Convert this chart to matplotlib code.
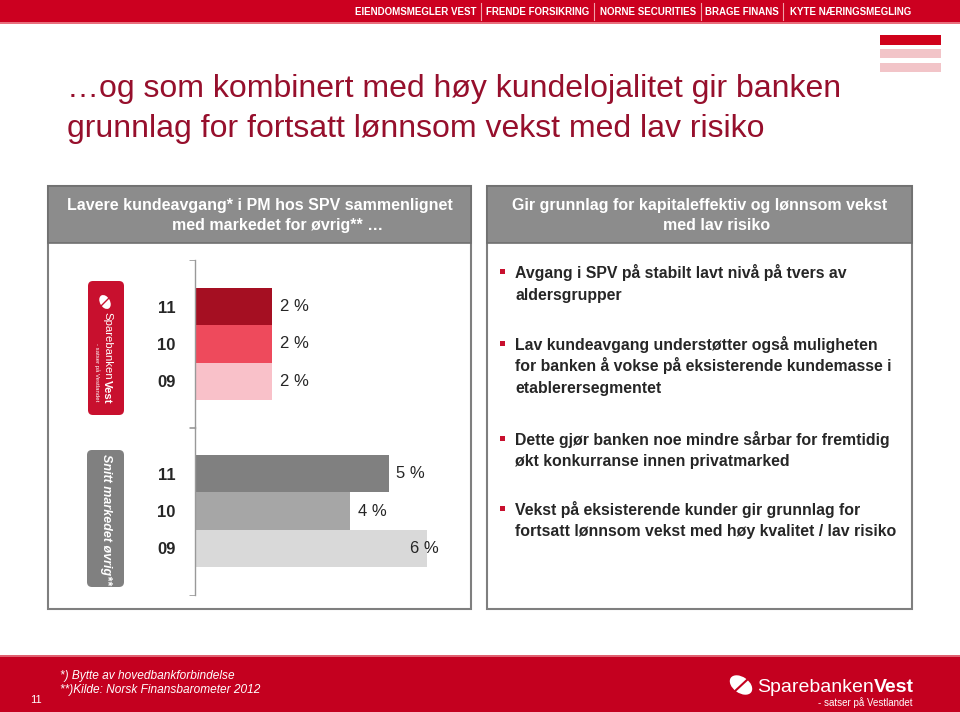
import matplotlib
matplotlib.use('Agg')
import matplotlib.pyplot as plt
from matplotlib.patches import Rectangle, FancyBboxPatch, Ellipse

plt.rcParams['font.family'] = ['Liberation Sans', 'DejaVu Sans']

# ---------------- data ----------------
years = ['11', '10', '09']
spv_values = [2, 2, 2]
market_values = [5, 4, 6]
spv_colors = ['#a50f22', '#ee4a5c', '#f9c1c9']
market_colors = ['#808080', '#a6a6a6', '#d9d9d9']

title_lines = ['\u2026og som kombinert med h\u00f8y kundelojalitet gir banken',
               'grunnlag for fortsatt l\u00f8nnsom vekst med lav risiko']
left_header = ['Lavere kundeavgang* i PM hos SPV sammenlignet',
               'med markedet for \u00f8vrig** \u2026']
right_header = ['Gir grunnlag for kapitaleffektiv og l\u00f8nnsom vekst',
                'med lav risiko']
bullets = [
    ['Avgang i SPV p\u00e5 stabilt lavt niv\u00e5 p\u00e5 tvers av', 'aldersgrupper'],
    ['Lav kundeavgang underst\u00f8tter ogs\u00e5 muligheten',
     'for banken \u00e5 vokse p\u00e5 eksisterende kundemasse i',
     'etablerersegmentet'],
    ['Dette gj\u00f8r banken noe mindre s\u00e5rbar for fremtidig',
     '\u00f8kt konkurranse innen privatmarked'],
    ['Vekst p\u00e5 eksisterende kunder gir grunnlag for',
     'fortsatt l\u00f8nnsom vekst med h\u00f8y kvalitet / lav risiko'],
]
top_menu = ['EIENDOMSMEGLER VEST', 'FRENDE FORSIKRING', 'NORNE SECURITIES',
            'BRAGE FINANS', 'KYTE N\u00c6RINGSMEGLING']
footnotes = ['*) Bytte av hovedbankforbindelse',
             '**)Kilde: Norsk Finansbarometer 2012']

RED = '#cc0020'
W, H = 960, 712
fig = plt.figure(figsize=(9.6, 7.12), dpi=100)
bg = fig.add_axes([0, 0, 1, 1])
bg.set_xlim(0, W)
bg.set_ylim(H, 0)
bg.axis('off')

# top bar
bg.add_patch(Rectangle((0, 0), W, 22, color=RED, lw=0))
bg.add_patch(Rectangle((0, 22), W, 2, color='#e8707e', lw=0))
menu_centers = [416, 538, 648, 742, 851]
for t, cx in zip(top_menu, menu_centers):
    bg.text(cx, 12, t, color='white', fontsize=7, fontweight='bold',
            ha='center', va='center')
for sx in [481, 594, 701, 783]:
    bg.plot([sx, sx], [3, 20], color='#f0a0a8', lw=0.8)

# top-right decoration
bg.add_patch(Rectangle((880, 35), 61, 10, color='#d0021b', lw=0))
bg.add_patch(Rectangle((880, 49), 61, 9, color='#f2c4c8', lw=0))
bg.add_patch(Rectangle((880, 63), 61, 9, color='#f2c4c8', lw=0))

# title
for i, line in enumerate(title_lines):
    bg.text(67, 97 + 40 * i, line, color='#960f2c', fontsize=23,
            ha='left', va='baseline')

# panels
for x0, x1, hdr, cxs in [(48, 471, left_header, [260, 278]),
                         (487, 912, right_header, [700, 717])]:
    bg.add_patch(Rectangle((x0, 186), x1 - x0, 423, fill=False,
                           ec='#7f7f7f', lw=1.5))
    bg.add_patch(Rectangle((x0, 186), x1 - x0, 57, fc='#8c8c8c',
                           ec='#6f6f6f', lw=1.2))
    for j, (t, cx) in enumerate(zip(hdr, cxs)):
        bg.text(cx, 210 + 20 * j, t, color='white', fontsize=11.5,
                fontweight='bold', ha='center', va='baseline')

# bullets
bullet_baselines = [[278, 300], [350, 371.5, 393], [445, 466], [515, 536]]
for lines, ys in zip(bullets, bullet_baselines):
    bg.add_patch(Rectangle((500, ys[0] - 9), 5, 5, color='#c8102e', lw=0))
    for t, y in zip(lines, ys):
        bg.text(515, y, t, color='#262626', fontsize=11.4, fontweight='bold',
                ha='left', va='baseline')

# logo boxes
bg.add_patch(FancyBboxPatch((88, 281), 36, 134,
                            boxstyle='round,pad=0,rounding_size=5',
                            fc='#c8102e', ec='none'))
bg.add_patch(Ellipse((105, 302), 15, 10, angle=60, fc='white', ec='none'))
bg.plot([101, 109], [306, 298], color='#c8102e', lw=1)
t1 = bg.text(107, 312, 'Sparebanken', color='white', fontsize=8.2,
             rotation=-90, ha='center', va='top')
bg.annotate('Vest', xy=(0.5, 0), xycoords=t1, color='white', fontsize=8.2,
            fontweight='bold', rotation=-90, ha='center', va='top')
bg.text(97, 372, '- satser p\u00e5 Vestlandet', color='white', fontsize=4.3,
        rotation=-90, ha='center', va='center')

bg.add_patch(FancyBboxPatch((87, 450), 37, 137,
                            boxstyle='round,pad=0,rounding_size=5',
                            fc='#808080', ec='none'))
bg.text(106, 519, 'Snitt markedet \u00f8vrig**', color='white', fontsize=9,
        fontweight='bold', style='italic', rotation=-90,
        ha='center', va='center')

# bottom banner
bg.add_patch(Rectangle((0, 655), W, 57, color='#c4001f', lw=0))
bg.add_patch(Rectangle((0, 655), W, 2, color='#e06070', lw=0))
for i, t in enumerate(footnotes):
    bg.text(60, 679 + 14 * i, t, color='white', fontsize=8.6, style='italic',
            ha='left', va='baseline')
bg.text(30, 703, '11', color='white', fontsize=8, ha='left', va='baseline')
bg.add_patch(Ellipse((741, 685), 25, 16, angle=35, fc='white', ec='none'))
bg.plot([734, 748], [692, 679], color='#c4001f', lw=1.5)
t2 = bg.text(757, 692, 'Sparebanken', color='white', fontsize=14,
             ha='left', va='baseline')
bg.annotate('Vest', xy=(1, 0), xycoords=t2, color='white', fontsize=14,
            fontweight='bold', ha='left', va='bottom')
bg.text(912, 706, '- satser p\u00e5 Vestlandet', color='white', fontsize=7,
        ha='right', va='baseline')


# ---------------- bar charts ----------------
def bar_panel(top_px, values, colors):
    ax = fig.add_axes([195 / W, 1 - (top_px + 168) / H, 271 / W, 168 / H])
    ax.patch.set_alpha(0)
    pos = list(range(len(years)))
    ax.barh(pos, values, height=1.0, color=colors, left=0)
    ax.set_xlim(0, 7)
    ax.set_ylim(len(years) - 0.5 + 0.75, -0.5 - 0.75)
    for s in ['top', 'right', 'bottom']:
        ax.spines[s].set_visible(False)
    ax.spines['left'].set_color('#999999')
    ax.spines['left'].set_linewidth(1)
    ax.set_xticks([])
    ax.set_yticks(pos)
    ax.set_yticklabels(years, fontsize=12, fontweight='bold', color='#262626')
    ax.tick_params(axis='y', which='major', length=0, pad=14)
    ax.set_yticks([-1.25, len(years) - 0.5 + 0.75], minor=True)
    ax.tick_params(axis='y', which='minor', length=4, color='#999999')
    for i, v in enumerate(values):
        ax.text(min(v + 0.2, 5.55), i, f'{v} %', fontsize=12,
                color='#262626', ha='left', va='center')
    return ax


bar_panel(260, spv_values, spv_colors)
bar_panel(427, market_values, market_colors)

fig.savefig('out.png', dpi=100)
